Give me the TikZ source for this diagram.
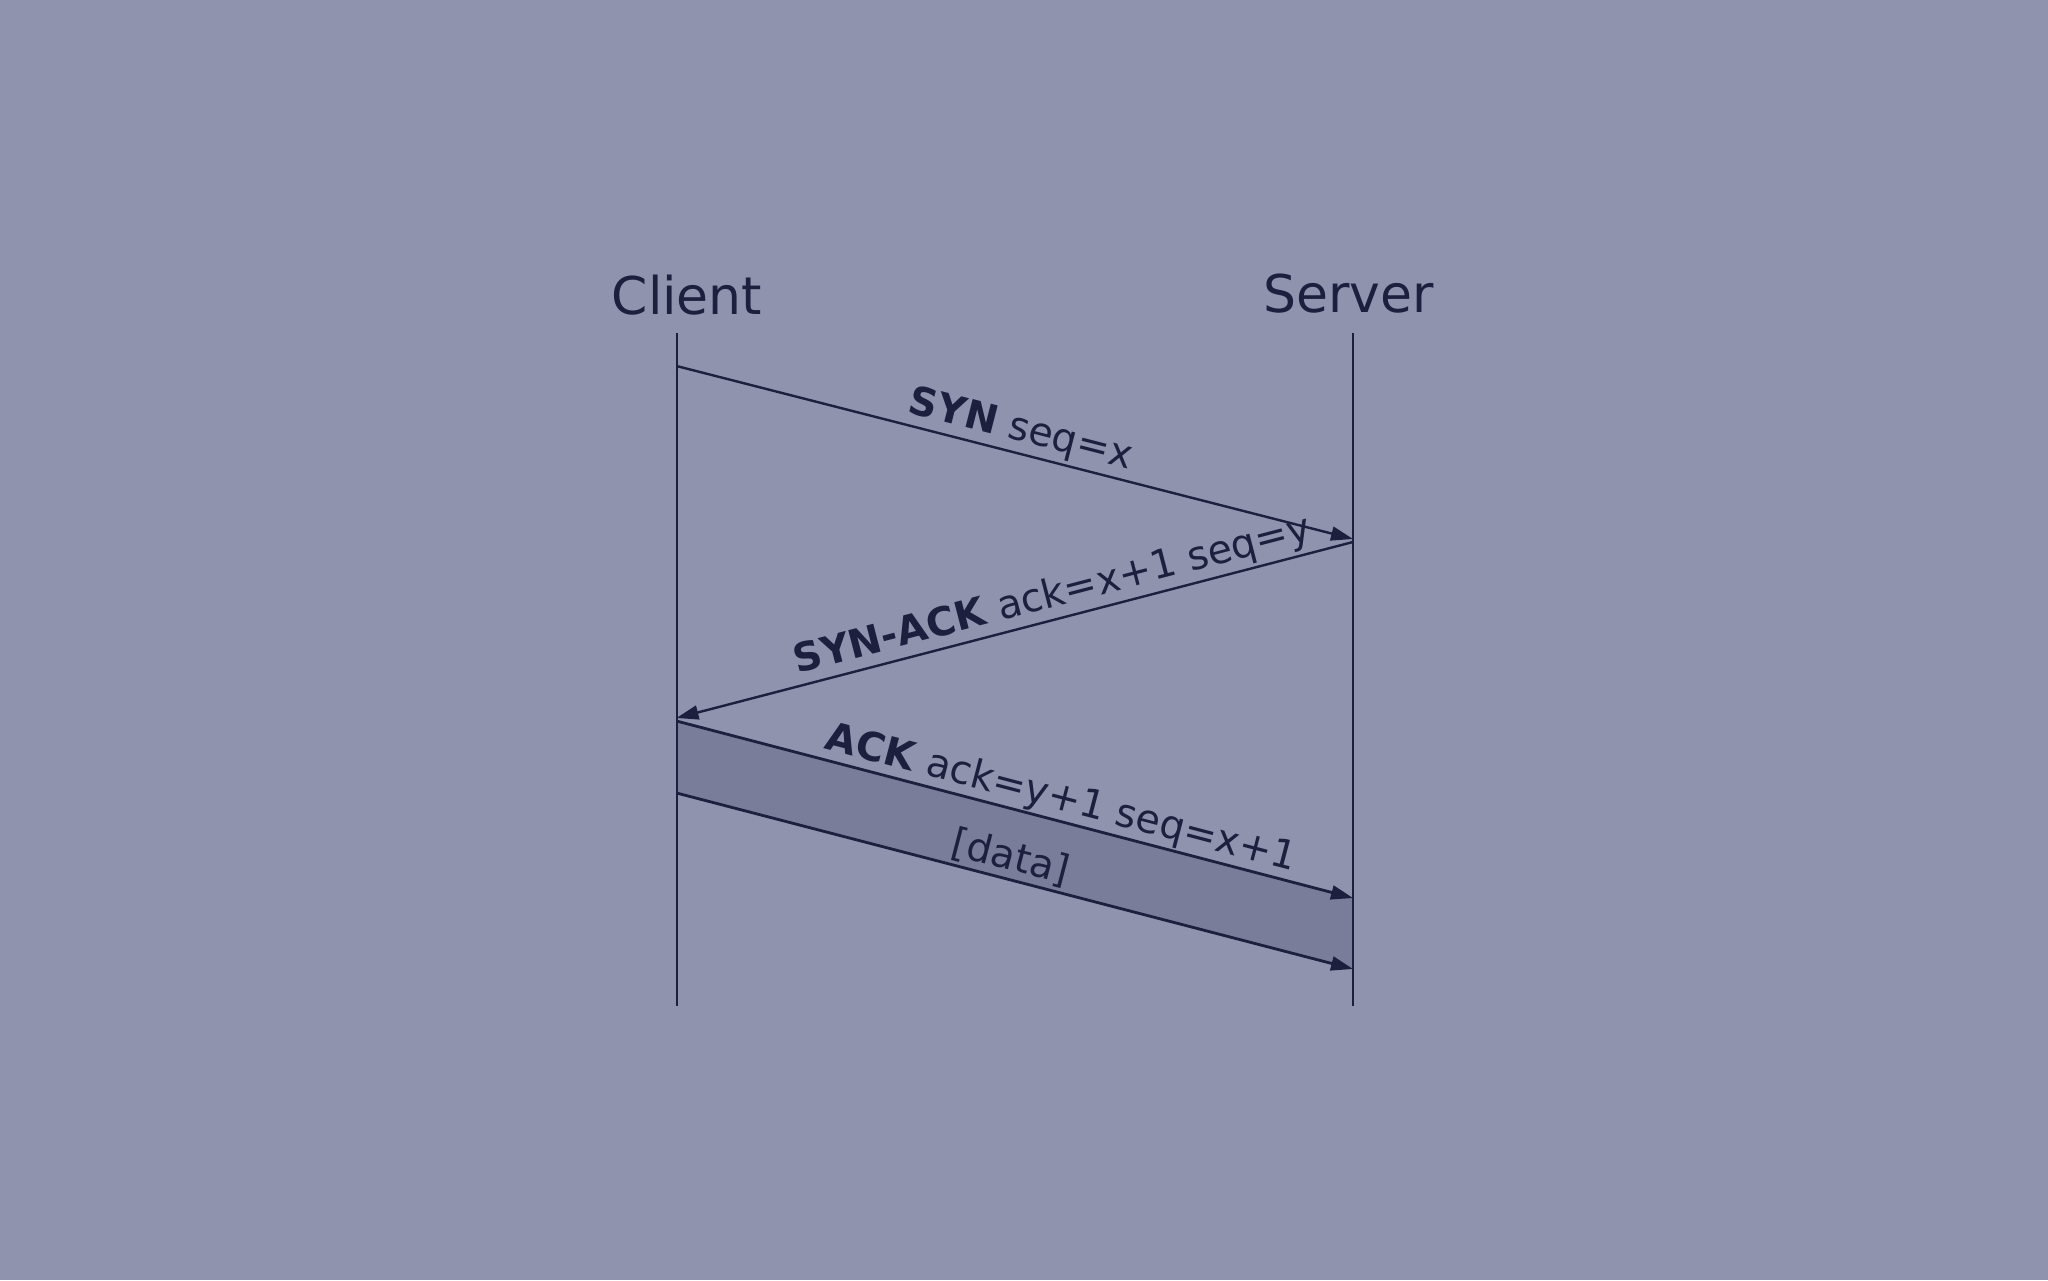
\documentclass[tikz,border=0pt]{standalone}
\usepackage{fontspec}
\setmainfont{DejaVu Sans}
\usetikzlibrary{arrows.meta}
\definecolor{bgc}{HTML}{8F93AE}
\definecolor{ink}{HTML}{1C1F3D}
\definecolor{band}{HTML}{7A7D9A}
\tikzset{
  lifeline/.style={draw=ink, line width=2pt},
  msg/.style={draw=ink, line width=2.4pt, -{Triangle[length=22pt,width=14pt]}},
  msglabel/.style={text=ink, font=\fontsize{39.5}{46}\selectfont, sloped, above, inner sep=3pt},
  actor/.style={text=ink, font=\fontsize{52}{60}\selectfont, anchor=base, inner sep=0pt}
}
\begin{document}
\begin{tikzpicture}[x=1pt,y=1pt]
\fill[bgc] (0,0) rectangle (2048,-1280);
\useasboundingbox (0,0) rectangle (2048,-1280);
\node[actor] (client) at (687,-314) {Client};
\node[actor] (server) at (1348.5,-312) {Server};
\coordinate (ct) at (676.5,-333);
\coordinate (cb) at (676.5,-1006);
\coordinate (st) at (1353,-333);
\coordinate (sb) at (1353,-1006);
\coordinate (c1) at (676.5,-366);
\coordinate (s1) at (1353,-539);
\coordinate (s2) at (1353,-542);
\coordinate (c2) at (676.5,-718);
\coordinate (c3) at (676.5,-721);
\coordinate (s3) at (1353,-898);
\coordinate (c4) at (676.5,-793);
\coordinate (s4) at (1353,-969);
\fill[band] (c3) -- (s3) -- (s4) -- (c4) -- cycle;
\draw[lifeline] (ct) -- (cb);
\draw[lifeline] (st) -- (sb);
\draw[msg] (c1) -- (s1) node[msglabel, pos=0.5] {\textbf{SYN} seq=x};
\draw[msg] (s2) -- (c2) node[msglabel, pos=0.435] {\textbf{SYN-ACK} ack=x+1 seq=y};
\draw[msg, line width=2.8pt] (c3) -- (s3) node[msglabel, pos=0.56, inner sep=1pt] {\textbf{ACK} ack=y+1 seq=x+1};
\draw[msg, line width=2.8pt] (c4) -- (s4) node[msglabel, pos=0.486] {[data]};
\end{tikzpicture}
\end{document}
